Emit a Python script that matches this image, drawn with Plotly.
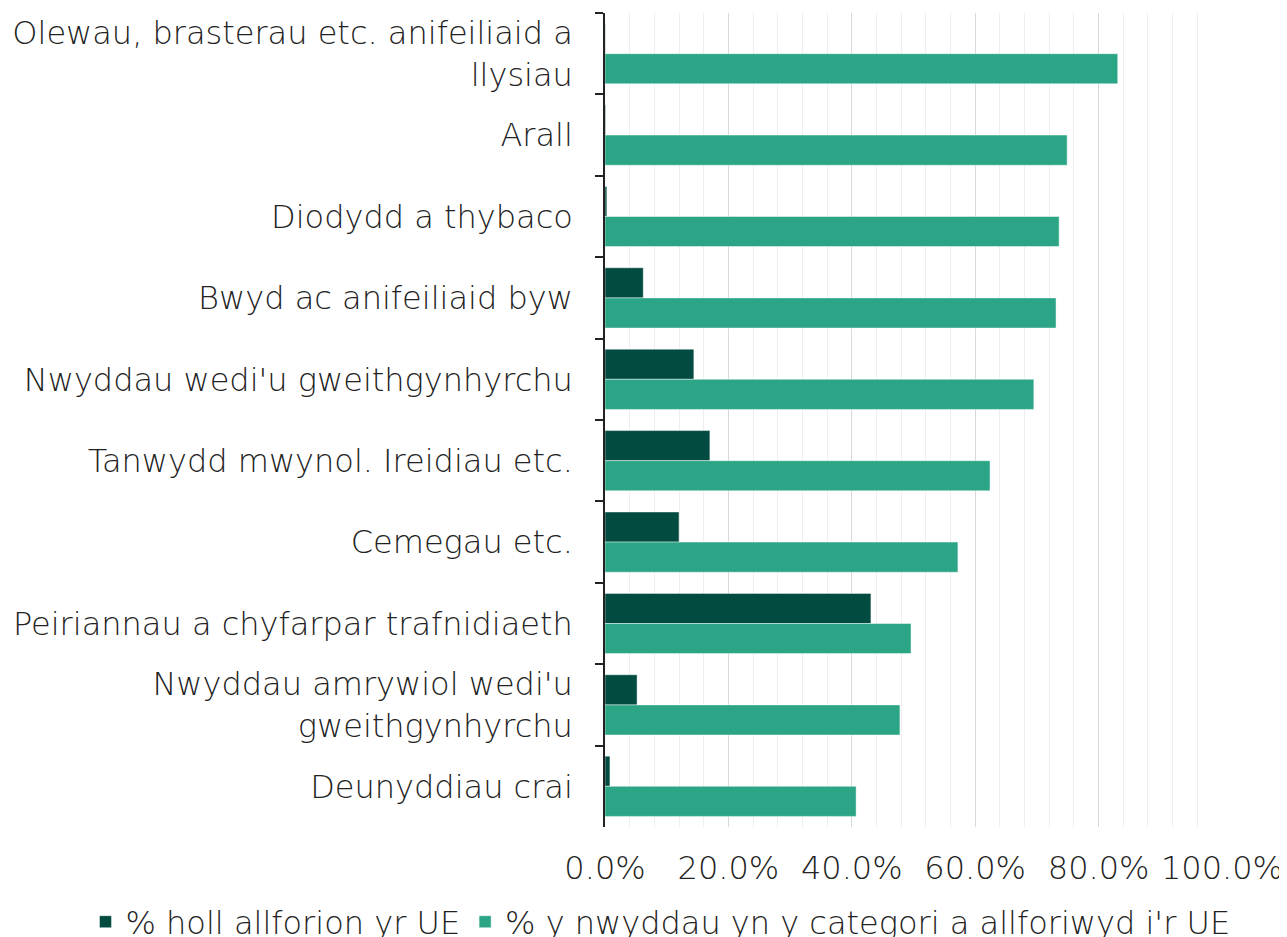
import plotly.graph_objects as go

categories = [
    "Olewau, brasterau etc. anifeiliaid a<br>llysiau",
    "Arall",
    "Diodydd a thybaco",
    "Bwyd ac anifeiliaid byw",
    "Nwyddau wedi'u gweithgynhyrchu",
    "Tanwydd mwynol. Ireidiau etc.",
    "Cemegau etc.",
    "Peiriannau a chyfarpar trafnidiaeth",
    "Nwyddau amrywiol wedi'u<br>gweithgynhyrchu",
    "Deunyddiau crai",
]
share_all_eu = [0.0005, 0.001, 0.003, 0.062, 0.144, 0.170, 0.120, 0.431, 0.052, 0.008]
share_category_eu = [0.831, 0.749, 0.736, 0.731, 0.695, 0.624, 0.572, 0.496, 0.478, 0.407]
series_names = ["% holl allforion yr UE", "% y nwyddau yn y categori a allforiwyd i'r UE"]

FONT = "DejaVu Sans"
FS = 32
TXT = "#222222"

fig = go.Figure()
fig.add_trace(go.Bar(
    y=categories, x=share_all_eu, orientation="h", name=series_names[0],
    marker=dict(color="#024B40", line=dict(color="rgba(255,255,255,0.45)", width=1)),
))
fig.add_trace(go.Bar(
    y=categories, x=share_category_eu, orientation="h", name=series_names[1],
    marker=dict(color="#2BA585", line=dict(color="rgba(255,255,255,0.45)", width=1)),
))

fig.update_layout(
    width=1279, height=929,
    margin=dict(l=597, r=65, t=5, b=110, autoexpand=False),
    paper_bgcolor="white", plot_bgcolor="white",
    barmode="group", bargap=0.26, bargroupgap=0,
    font=dict(family=FONT, size=FS, color=TXT, weight=300),
    showlegend=True,
    legend=dict(orientation="h", x=-0.842, xanchor="left", y=-0.1166, yanchor="middle",
                font=dict(family=FONT, size=FS, color=TXT, weight=300), itemwidth=30,
                bgcolor="rgba(0,0,0,0)"),
)
fig.update_xaxes(
    range=[0, 1.0], tickformat=".1%", dtick=0.2, tick0=0,
    showgrid=True, gridcolor="#d9d9d9", gridwidth=1,
    minor=dict(dtick=0.04, showgrid=True, gridcolor="#eeeeee", gridwidth=1),
    showline=False, zeroline=False, ticks="", ticklabelstandoff=19,
    tickfont=dict(family=FONT, size=FS, color=TXT, weight=300),
)
fig.update_yaxes(
    autorange="reversed", showline=True, linecolor="#222222", linewidth=1.5,
    ticks="outside", tickson="boundaries", ticklen=8, tickcolor="#222222", tickwidth=1.5,
    showgrid=False, ticklabelstandoff=24,
    tickfont=dict(family=FONT, size=FS, color=TXT, weight=300),
)

fig.write_html("out.html")
